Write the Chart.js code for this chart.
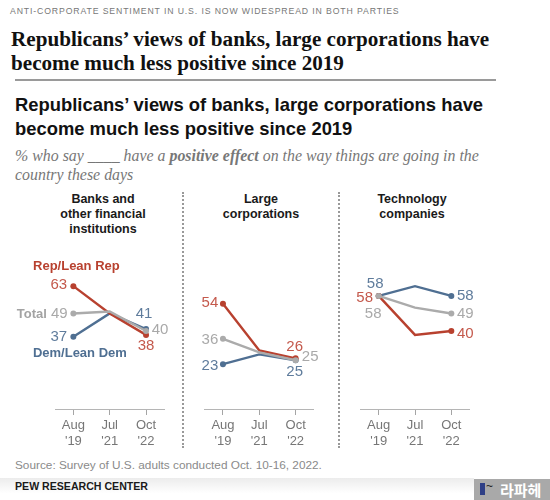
<!DOCTYPE html>
<html lang="en">
<head>
<meta charset="utf-8">
<script src="https://cdn.jsdelivr.net/npm/chart.js@4"></script>
<style>
html,body{margin:0;padding:0;background:#fff}
#page{position:relative;width:550px;height:500px;overflow:hidden;background:#fff;font-family:"Liberation Sans",Arial,sans-serif}
.t{position:absolute;white-space:nowrap}
canvas{position:absolute}
.panel-title{position:absolute;text-align:center;font-weight:700;font-size:12.5px;line-height:15px;color:#1a1a1a;white-space:nowrap;transform:translateX(-50%)}
.div{position:absolute;top:192px;height:256px;width:0;border-left:2px dotted #999}
</style>
</head>
<body>
<div id="page">
  <div class="t" style="left:10px;top:6px;font-size:8.7px;letter-spacing:0.88px;color:#777">ANTI-CORPORATE SENTIMENT IN U.S. IS NOW WIDESPREAD IN BOTH PARTIES</div>
  <div class="t" style="left:11px;top:28px;font-family:'Liberation Serif',serif;font-weight:700;font-size:21.15px;line-height:23.5px;color:#111">Republicans’ views of banks, large corporations have<br>become much less positive since 2019</div>
  <div style="position:absolute;left:15px;top:79px;width:481px;height:1.5px;background:#9a9a9a"></div>
  <div class="t" style="left:15px;top:93px;font-weight:700;font-size:18.4px;line-height:24px;color:#111">Republicans’ views of banks, large corporations have<br>become much less positive since 2019</div>
  <div class="t" style="left:15px;top:146px;font-family:'Liberation Serif',serif;font-style:italic;font-size:15.9px;line-height:19px;color:#777">% who say ____ have a <b>positive effect</b> on the way things are going in the<br>country these days</div>
  <div class="panel-title" style="left:103px;top:192px">Banks and<br>other financial<br>institutions</div>
  <div class="panel-title" style="left:261px;top:192px">Large<br>corporations</div>
  <div class="panel-title" style="left:412px;top:192px">Technology<br>companies</div>
  <div class="div" style="left:182px"></div>
  <div class="div" style="left:338px"></div>
  <canvas id="c1" style="left:0;top:240px"></canvas>
  <canvas id="c2" style="left:184px;top:240px"></canvas>
  <canvas id="c3" style="left:340px;top:240px"></canvas>
  <div class="t" style="left:15px;top:458px;font-size:11.8px;color:#8a8a8a">Source: Survey of U.S. adults conducted Oct. 10-16, 2022.</div>
  <div style="position:absolute;left:0;top:478px;width:474px;height:22px;background:linear-gradient(#ececec,#fff 70%)"></div>
  <div class="t" style="left:15px;top:480px;font-size:10.6px;font-weight:700;color:#1a1a1a">PEW RESEARCH CENTER</div>
  <div style="position:absolute;left:474px;top:479px;width:76px;height:21px;background:#a9a9a9"></div>
  <div style="position:absolute;left:480px;top:483px;width:5px;height:12px;background:#2f3f86"></div>
  <div class="t" style="left:486px;top:479px;font-size:12px;color:#222">~</div>
  <div class="t" style="left:500px;top:480px;font-family:'Noto Sans CJK KR';font-weight:700;font-size:15px;line-height:19px;color:#fff">라파헤</div>
</div>
<script>
const categories = [["Aug","'19"],["Jul","'21"],["Oct","'22"]];

const banksRep = [63,49,38];
const banksTotal = [49,50,40];
const banksDem = [37,49,41];

const corpRep = [54,30,26];
const corpTotal = [36,29,25];
const corpDem = [23,28,25];

const techRep = [58,38,40];
const techTotal = [58,52,49];
const techDem = [58,63,58];

const seriesNames = ["Rep/Lean Rep","Total","Dem/Lean Dem"];

const RED='#b8412f', GREY='#ababab', BLUE='#4f6f92';
const RED_T='#c4594c', GREY_T='#a9a9a9', BLUE_T='#5f7c9c';

// Annotation offsets: [dataset, point, dx, dy, text-or-null]
const bankNotes = [
  [1,0,-14.5,-1],[0,0,-14,0.5],[2,0,-14.5,0],
  [2,2,-2,-15],[0,2,14,-1],[1,2,0,11],
  [1,0,3,-20,seriesNames[0]],[0,0,-41.5,0.5,seriesNames[1]],[2,0,6.5,17,seriesNames[2]]
];
const corpNotes = [
  [1,0,-13,-1],[0,0,-13,1],[2,0,-13,1.5],
  [1,2,-1,-11],[0,2,14.5,-3],[2,2,-1,12]
];
const techNotes = [
  [2,0,-3.5,-12],[1,0,-14,2],[0,0,-5.5,18],
  [2,2,14,0],[0,2,14,0],[1,2,14,2.5]
];

const labelPlugin = {
  id:'notes',
  afterDatasetsDraw(chart,args,opts){
    const ctx=chart.ctx, colors=[GREY_T,RED_T,BLUE_T];
    ctx.save();
    ctx.textAlign='center'; ctx.textBaseline='middle';
    for(const n of opts.items){
      const pt=chart.getDatasetMeta(n[0]).data[n[1]];
      const val=chart.data.datasets[n[0]].data[n[1]];
      if(n[4]){
        ctx.font='700 13px "Liberation Sans"';
        ctx.fillStyle=[ '#a3a3a3', RED, BLUE ][n[0]];
        ctx.fillText(n[4],pt.x+n[2],pt.y+n[3]);
      } else {
        ctx.font='15px "Liberation Sans"';
        ctx.fillStyle=colors[n[0]];
        ctx.fillText(String(val),pt.x+n[2],pt.y+n[3]);
      }
    }
    ctx.restore();
  }
};

function ds(label,data,color){
  return {label,data,borderColor:color,backgroundColor:color,borderWidth:2.4,tension:0,
    pointRadius:[3,0,3],pointHoverRadius:[3,0,3],pointBorderWidth:0,clip:false};
}

function panel(id,w,padL,padR,rep,total,dem,notes){
  const el=document.getElementById(id);
  el.width=w; el.height=210; el.style.width=w+'px'; el.style.height='210px';
  new Chart(el,{
    type:'line',
    data:{labels:categories,datasets:[ds(seriesNames[1],total,GREY),ds(seriesNames[0],rep,RED),ds(seriesNames[2],dem,BLUE)]},
    plugins:[labelPlugin],
    options:{
      responsive:false,animation:false,
      layout:{padding:{left:padL,right:padR,top:13,bottom:0}},
      plugins:{legend:{display:false},title:{display:false},tooltip:{enabled:false},notes:{items:notes}},
      scales:{
        x:{offset:true,
          afterFit(s){s.height=41;},
          border:{display:true,color:'#b5b5b5',width:1},
          grid:{drawOnChartArea:false,drawTicks:true,tickLength:6,color:'#a5a5a5'},
          ticks:{color:'#767676',font:{family:'"Liberation Sans"',size:13,lineHeight:1.25},padding:2,maxRotation:0,autoSkip:false}},
        y:{display:false,min:0,max:80}
      }
    }
  });
}
panel('c1',183,55.2,18.8,banksRep,banksTotal,banksDem,bankNotes);
panel('c2',154,20.8,24.2,corpRep,corpTotal,corpDem,corpNotes);
panel('c3',170,20.5,40.5,techRep,techTotal,techDem,techNotes);
</script>
</body>
</html>
